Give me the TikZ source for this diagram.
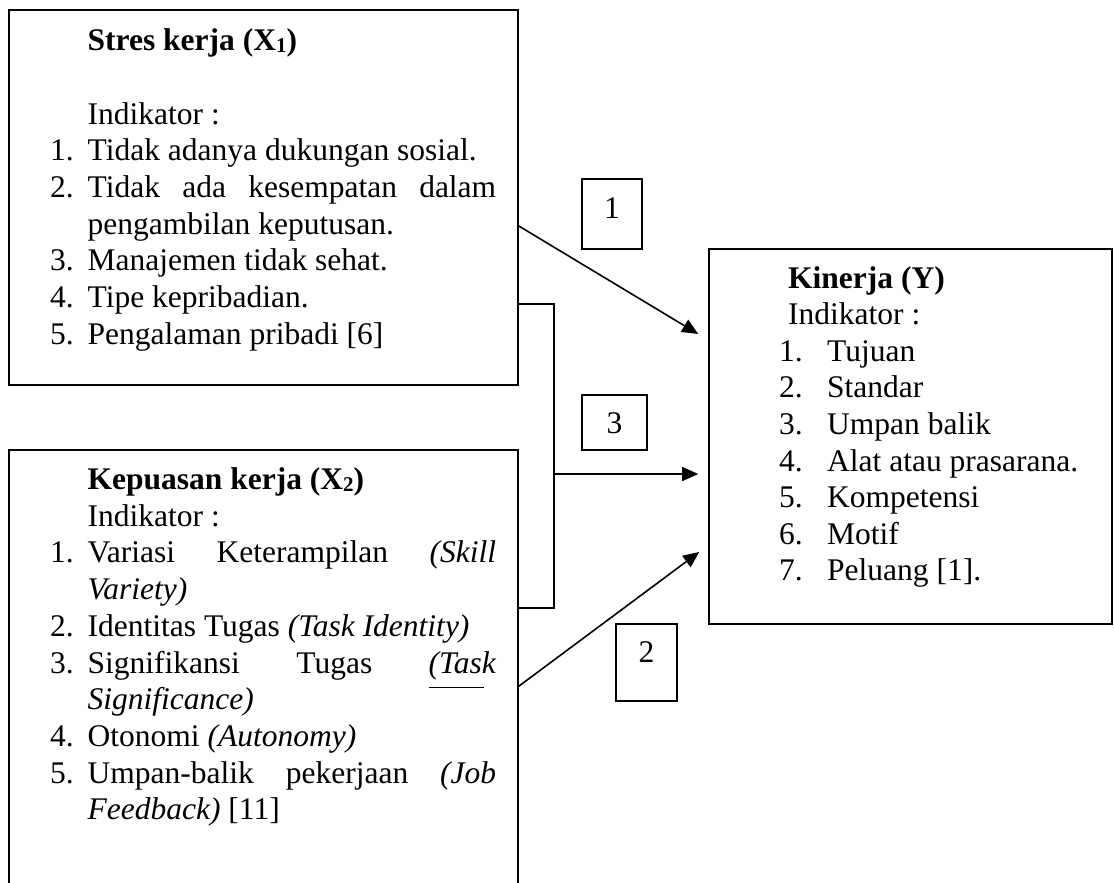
\documentclass[tikz,border=0pt]{standalone}
\usepackage{fontspec}
\setmainfont{Liberation Serif}
\usetikzlibrary{arrows.meta}
\newcommand\mysub[1]{\raisebox{-1.5pt}{\fontsize{21}{21}\selectfont #1}}
\newcommand\myitem[2]{\makebox[37.5pt][l]{#1}#2}
\newcommand\myjust[2]{\makebox[37.5pt][l]{#1}\makebox[408.5pt][s]{#2}}
\newcommand\mycont[1]{\hspace*{37.5pt}#1}
\newcommand\kitem[2]{\makebox[48pt][l]{#1}#2}
\tikzset{
  box/.style={draw, line width=1.6pt, inner sep=0pt},
  lbl/.style={draw, line width=1.6pt, inner sep=0pt, font=\fontsize{31.5}{36.7}\selectfont},
  txt/.style={anchor=base west, inner sep=0pt, align=left},
  conn/.style={line width=1.6pt},
  arr/.style={line width=1.6pt, -{Triangle[length=16pt,width=14pt]}}
}
\begin{document}
\begin{tikzpicture}[x=1pt,y=1pt]
\useasboundingbox (0,0) rectangle (1114,-883);
% main boxes
\node[box, minimum width=509pt, minimum height=375pt] (s1) at (263.5,-197.5) {};
\begin{scope}
\clip (0,0) rectangle (1114,-883);
\node[box, minimum width=509pt, minimum height=460pt] (s2) at (263.5,-680) {};
\end{scope}
\node[box, minimum width=403pt, minimum height=375pt] (ky) at (910.5,-436.5) {};
% texts
\node[txt] (t1) at (50,-50.7) {\parbox[t]{446pt}{\fontsize{31.5}{36.7}\selectfont
\mycont{\textbf{Stres kerja (X\mysub{1})}}\\[36.7pt]
\mycont{Indikator :}\\
\myitem{1.}{Tidak adanya dukungan sosial.}\\
\myjust{2.}{Tidak ada kesempatan dalam}\\
\mycont{pengambilan keputusan.}\\
\myitem{3.}{Manajemen tidak sehat.}\\
\myitem{4.}{Tipe kepribadian.}\\
\myitem{5.}{Pengalaman pribadi [6]}}};
\node[txt] (t2) at (50,-489.5) {\parbox[t]{446pt}{\fontsize{31.5}{36.7}\selectfont
\mycont{\textbf{Kepuasan kerja (X\mysub{2})}}\\
\mycont{Indikator :}\\
\myjust{1.}{Variasi Keterampilan \textit{(Skill}}\\
\mycont{\textit{Variety)}}\\
\myitem{2.}{Identitas Tugas \textit{(Task Identity)}}\\
\myjust{3.}{Signifikansi Tugas \textit{\smash{\rlap{\rule[-15pt]{55pt}{1.5pt}}}(Task}}\\
\mycont{\textit{Significance)}}\\
\myitem{4.}{Otonomi \textit{(Autonomy)}}\\
\myjust{5.}{Umpan-balik pekerjaan \textit{(Job}}\\
\mycont{\textit{Feedback)} [11]}}};
\node[txt] (t3) at (779,-288) {\parbox[t]{330pt}{\fontsize{31.5}{36.6}\selectfont
\hspace*{9pt}\textbf{Kinerja (Y)}\\
\hspace*{9pt}Indikator :\\
\kitem{1.}{Tujuan}\\
\kitem{2.}{Standar}\\
\kitem{3.}{Umpan balik}\\
\kitem{4.}{Alat atau prasarana.}\\
\kitem{5.}{Kompetensi}\\
\kitem{6.}{Motif}\\
\kitem{7.}{Peluang [1].}}};
% label boxes
\node[lbl, minimum width=60pt, text height=39pt, text depth=31pt] (l1) at (612,-214) {1};
\node[lbl, minimum width=65pt, text height=38pt, text depth=17pt] (l3) at (614.5,-422.5) {3};
\node[lbl, minimum width=61pt, text height=38pt, text depth=39pt] (l2) at (646.5,-662.5) {2};
% connectors
\coordinate (j) at (554,-474);
\draw[arr] ([yshift=-28.5]s1.east) -- ([xshift=-10,yshift=102.5]ky.west);
\draw[conn] ([yshift=-106.5]s1.east) -| (j) |- ([yshift=-159]s2.north east);
\draw[arr] (j) -- ([xshift=-10,yshift=-37.5]ky.west);
\draw[arr] ([yshift=-237]s2.north east) -- ([xshift=-9,yshift=-115.5]ky.west);
\end{tikzpicture}
\end{document}
